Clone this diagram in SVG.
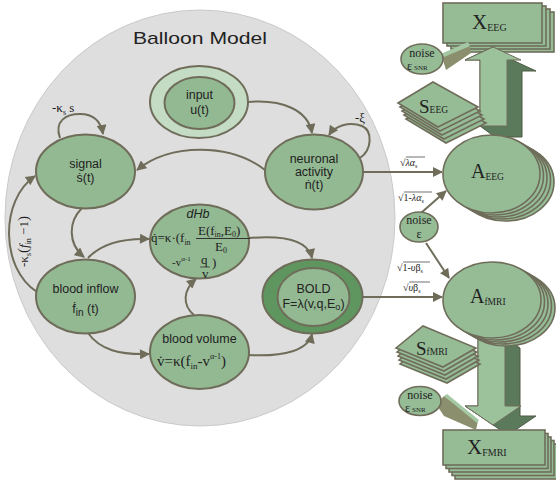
<svg xmlns="http://www.w3.org/2000/svg" width="556" height="480" viewBox="0 0 556 480">
<defs>
<style>
.node{fill:#93b993;stroke:#6f6d5a;stroke-width:2}
.rnode{fill:#96bc96;stroke:#6f6d5a;stroke-width:1.6}
.ring{fill:#c4dcc4;stroke:#6f6d5a;stroke-width:2}
.dring{fill:#5f9660;stroke:#6f6d5a;stroke-width:2}
.conn{fill:none;stroke:#6f6d5a;stroke-width:2}
.sans{font-family:"Liberation Sans",Arial,sans-serif;font-size:12.5px;fill:#222;text-anchor:middle}
.serif{font-family:"Liberation Serif","Times New Roman",serif;fill:#222}
.dark{fill:#5b7a5b;stroke:#4f5a45;stroke-width:1}
.front{fill:#9bc29b;stroke:#6f6d5a;stroke-width:1}
.lbl{font-family:"Liberation Serif","Times New Roman",serif;font-size:10px;fill:#222}
.ov{stroke:#333;stroke-width:0.7;fill:none}
.nz{font-family:"Liberation Serif","Times New Roman",serif;font-size:12px;fill:#222;text-anchor:middle}
</style>
<marker id="ah" viewBox="0 0 10 10" refX="9" refY="5" markerWidth="11" markerHeight="10" markerUnits="userSpaceOnUse" orient="auto">
<path d="M0,0 L10,5 L0,10 Z" fill="#6f6d5a"/>
</marker>
</defs>
<rect width="556" height="480" fill="#ffffff"/>
<ellipse id="balloon" cx="200" cy="218" rx="195" ry="208" fill="#dedede" stroke="#cacaca" stroke-width="1"/>
<text x="200" y="44" font-family="Liberation Sans,Arial,sans-serif" font-size="17" fill="#222" text-anchor="middle" textLength="134" lengthAdjust="spacingAndGlyphs">Balloon Model</text>

<g id="connectors">
<path class="conn" d="M248,102 C282,99 308,110 312,133" marker-end="url(#ah)"/>
<path class="conn" d="M360,158 C372,150 373,131 362,126 C349,121 335,126 329,135" marker-end="url(#ah)"/>
<path class="conn" d="M265,170 C230,143 170,143 137,170" marker-end="url(#ah)"/>
<path class="conn" d="M60,138 C54,121 66,114 80,114 C94,114 101,122 103,134" marker-end="url(#ah)"/>
<path class="conn" d="M82,208 C68,222 68,244 84,257" marker-end="url(#ah)"/>
<path class="conn" d="M88,258 C100,245 120,238 149,239" marker-end="url(#ah)"/>
<path class="conn" d="M37,292 C0,268 0,200 35,176" marker-end="url(#ah)"/>
<path class="conn" d="M88,333 C100,350 120,355 149,354" marker-end="url(#ah)"/>
<path class="conn" d="M194,315 C182,305 183,290 196,279" marker-end="url(#ah)"/>
<path class="conn" d="M249,238 C285,235 308,240 312,258" marker-end="url(#ah)"/>
<path class="conn" d="M249,355 C285,357 308,350 312,334" marker-end="url(#ah)"/>
<path class="conn" d="M363,172 L442,172" marker-end="url(#ah)"/>
<path class="conn" d="M421,213 L446,191" marker-end="url(#ah)"/>
<path class="conn" d="M426,243 L449,278" marker-end="url(#ah)"/>
<path class="conn" d="M363,297 L442,297" marker-end="url(#ah)"/>
<text class="serif" x="52" y="112" font-size="13">-κ<tspan font-size="8" dy="3">s</tspan><tspan dy="-3"> s</tspan></text>
<text class="serif" x="355" y="122" font-size="13">-ξ</text>
<text class="serif" font-size="13" transform="translate(28,267) rotate(-90)">-κ<tspan font-size="8" dy="3">s</tspan><tspan dy="-3" font-size="15">(</tspan><tspan font-style="italic">f</tspan><tspan font-size="8" dy="3">in</tspan><tspan dy="-3"> −1</tspan><tspan font-size="15">)</tspan></text>
<text class="lbl" x="400" y="166">√<tspan font-style="italic">λα</tspan><tspan font-size="6" dy="2">s</tspan></text>
<path class="ov" d="M406,157 L425,157"/>
<text class="lbl" x="398" y="201">√1-<tspan font-style="italic">λα</tspan><tspan font-size="6" dy="2">s</tspan></text>
<path class="ov" d="M404,192 L432,192"/>
<text class="lbl" x="397" y="271">√1-<tspan font-style="italic">υ</tspan>β<tspan font-size="6" dy="2">s</tspan></text>
<path class="ov" d="M403,262 L430,262"/>
<text class="lbl" x="403" y="291">√<tspan font-style="italic">υ</tspan>β<tspan font-size="6" dy="2">s</tspan></text>
<path class="ov" d="M409,282 L430,282"/>
</g>

<g id="input">
<ellipse class="ring" cx="199" cy="102" rx="49" ry="36"/>
<ellipse class="node" cx="199.5" cy="103" rx="35" ry="26"/>
<text class="sans" x="199.5" y="99">input</text>
<text class="sans" x="199.5" y="114">u(t)</text>
</g>
<g id="signal">
<ellipse class="node" cx="85.5" cy="171.5" rx="49.5" ry="37"/>
<text class="sans" x="85.5" y="168">signal</text>
<text class="sans" x="85.5" y="182">ṡ(t)</text>
</g>
<g id="neuronal">
<ellipse class="node" cx="314" cy="172" rx="49" ry="37.5"/>
<text class="sans" x="314" y="163">neuronal</text>
<text class="sans" x="314" y="176">activity</text>
<text class="sans" x="314" y="189">ṅ(t)</text>
</g>
<g id="dhb">
<ellipse class="node" cx="199.5" cy="241.5" rx="49.5" ry="37"/>
<text class="sans" x="198" y="218" font-style="italic">dHb</text>
<text class="serif" x="151" y="242" font-size="13">q̇=κ·(f<tspan font-size="8" dy="3">in</tspan></text>
<text class="serif" x="198" y="235" font-size="13">E(f<tspan font-size="8" dy="2">in</tspan><tspan dy="-2">,E</tspan><tspan font-size="8" dy="2">0</tspan><tspan dy="-2">)</tspan></text>
<path d="M196,238.5 L250,238.5" stroke="#333" stroke-width="1"/>
<text class="serif" x="215" y="251" font-size="13">E<tspan font-size="8" dy="2">0</tspan></text>
<text class="serif" x="172" y="266" font-size="11">-v<tspan font-size="7" dy="-5">α-1</tspan></text>
<text class="serif" x="201" y="264" font-size="13">q</text>
<path d="M200,267 L210,267" stroke="#333" stroke-width="0.8"/>
<text class="serif" x="202" y="278" font-size="13">v</text>
<text class="serif" x="212" y="267" font-size="13">)</text>
</g>
<g id="inflow">
<ellipse class="node" cx="85.5" cy="296.5" rx="49.5" ry="37"/>
<text class="sans" x="85.5" y="293">blood inflow</text>
<text class="sans" x="85.5" y="313" font-size="15">ḟ<tspan font-size="10" dy="3">in</tspan><tspan dy="-3"> (t)</tspan></text>
</g>
<g id="volume">
<ellipse class="node" cx="199.5" cy="352" rx="49.5" ry="37"/>
<text class="sans" x="199.5" y="343" font-size="13">blood volume</text>
<text class="serif" x="157" y="366" font-size="15">v̇=κ(f<tspan font-size="9" dy="3">in</tspan><tspan dy="-3">-v</tspan><tspan font-size="8" dy="-7">α-1</tspan><tspan dy="7">)</tspan></text>
</g>
<g id="bold">
<ellipse class="dring" cx="312.5" cy="296.5" rx="50" ry="37"/>
<ellipse class="node" cx="313.5" cy="297" rx="36" ry="29" fill="#98bd98"/>
<text class="sans" x="313.5" y="293" font-size="13">BOLD</text>
<text class="sans" x="313.5" y="308" font-size="13">F=λ(v,q,E<tspan font-size="9" dy="2">o</tspan><tspan dy="-2">)</tspan></text>
</g>

<g id="x-eeg">
<rect class="rnode" x="455" y="12" width="99" height="40"/>
<rect class="rnode" x="451" y="9" width="99" height="40"/>
<rect class="rnode" x="447" y="6" width="99" height="40"/>
<rect class="rnode" x="443" y="3" width="99" height="40"/>
<text class="serif" x="472" y="29" font-size="21">X<tspan font-size="10" dy="2">EEG</tspan></text>
</g>
<g id="arrow-eeg">
<polygon class="dark" points="493,47 508,58 536,71 522,71 522,137 495,137 480,126 480,60 465,60"/>
<polygon class="front" points="493,47 521,60 507,60 507,126 480,126 480,60 465,60"/>
</g>
<g id="noise-snr-top">
<polygon fill="#8c8f6e" points="441,54 469,43 471,53 446,70"/>
<polygon fill="#a3c8a3" points="441,54 468,42 470,46 444,57"/>
<ellipse class="rnode" cx="422" cy="59" rx="21" ry="15"/>
<text class="nz" x="422" y="57">noise</text>
<text class="serif" x="407" y="70" font-size="12">ε<tspan font-size="7" dx="2">SNR</tspan></text>
</g>
<g id="s-eeg">
<polygon class="rnode" points="406,119 441,98 486,123 446,143"/>
<polygon class="rnode" points="404,115 439,94 484,119 444,139"/>
<polygon class="rnode" points="402,111 437,90 482,115 442,135"/>
<polygon class="rnode" points="400,107 435,86 480,111 440,131"/>
<polygon class="rnode" points="398,103 433,82 478,107 438,127"/>
<text class="serif" x="419" y="113" font-size="19">S<tspan font-size="9.5">EEG</tspan></text>
</g>
<g id="a-eeg">
<ellipse class="rnode" cx="505.5" cy="182" rx="48.5" ry="39"/>
<ellipse class="rnode" cx="502" cy="180" rx="48.5" ry="39"/>
<ellipse class="rnode" cx="498.5" cy="178" rx="48.5" ry="39"/>
<ellipse class="rnode" cx="495" cy="176" rx="48.5" ry="39"/>
<ellipse class="rnode" cx="491.5" cy="174" rx="48.5" ry="39"/>
<text class="serif" x="471" y="178" font-size="20">A<tspan font-size="9.5" dy="2">EEG</tspan></text>
</g>
<g id="noise-mid">
<ellipse class="rnode" cx="419" cy="227" rx="19" ry="15"/>
<text class="nz" x="419" y="224">noise</text>
<text class="nz" x="419" y="238">ε</text>
</g>
<g id="arrow-fmri">
<polygon class="dark" points="478,338 505,338 520,348 520,416 536,416 508,435 493,425 465,406 478,406"/>
<polygon class="front" points="478,338 505,338 505,406 521,406 493,425 465,406 478,406"/>
</g>
<g id="a-fmri">
<ellipse class="rnode" cx="506" cy="308" rx="49" ry="38"/>
<ellipse class="rnode" cx="502.5" cy="306" rx="49" ry="38"/>
<ellipse class="rnode" cx="499" cy="304" rx="49" ry="38"/>
<ellipse class="rnode" cx="495.5" cy="302" rx="49" ry="38"/>
<ellipse class="rnode" cx="492" cy="300" rx="49" ry="38"/>
<text class="serif" x="470" y="303" font-size="20">A<tspan font-size="9.5" dy="2">fMRI</tspan></text>
</g>
<g id="s-fmri">
<polygon class="rnode" points="400,364 427,342 480,364 447,383"/>
<polygon class="rnode" points="399,360 426,338 479,360 446,379"/>
<polygon class="rnode" points="398,356 425,334 478,356 445,375"/>
<polygon class="rnode" points="397,352 424,330 477,352 444,371"/>
<polygon class="rnode" points="396,348 423,326 476,348 443,367"/>
<text class="serif" x="416" y="355" font-size="19">S<tspan font-size="9.5">fMRI</tspan></text>
</g>
<g id="x-fmri">
<rect class="rnode" x="455" y="444" width="102" height="35"/>
<rect class="rnode" x="452" y="440.5" width="102" height="35"/>
<rect class="rnode" x="449" y="437" width="102" height="35"/>
<rect class="rnode" x="446" y="433.5" width="102" height="35"/>
<rect class="rnode" x="443" y="430" width="102" height="35"/>
<text class="serif" x="467" y="454" font-size="21">X<tspan font-size="10" dy="2">FMRI</tspan></text>
</g>
<g id="noise-snr-bottom">
<polygon fill="#8c8f6e" points="436,404 444,396 478,421 476,430 444,416"/>
<polygon fill="#a3c8a3" points="444,396 447,394 479,420 477,423"/>
<ellipse class="rnode" cx="420" cy="401" rx="21" ry="14.5"/>
<text class="nz" x="420" y="399">noise</text>
<text class="serif" x="405" y="412" font-size="12">ε<tspan font-size="7" dx="2">SNR</tspan></text>
</g>
</svg>
